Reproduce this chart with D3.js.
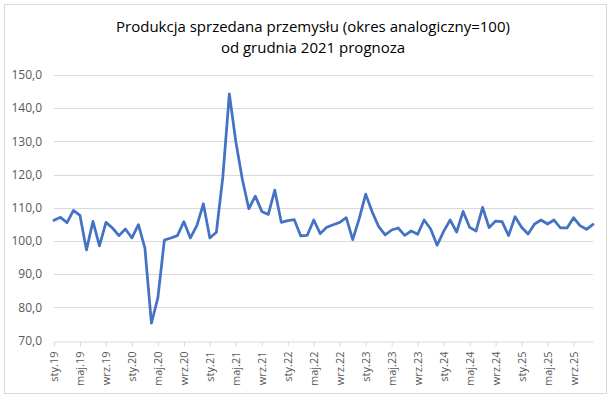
<!DOCTYPE html>
<html>
<head>
<meta charset="utf-8">
<script src="https://cdn.jsdelivr.net/npm/d3@7"></script>
<style>
  body { margin: 0; background: #fff; }
  svg { display: block; font-family: "Open Sans", "Noto Sans", sans-serif; }
</style>
</head>
<body>
<div class="chart-wrapper"></div>
<script>
// categories: months Jan 2019 - Dec 2025
var years = ["19", "20", "21", "22", "23", "24", "25"];
var monthNames = ["sty", "lut", "mar", "kwi", "maj", "cze", "lip", "sie", "wrz", "paź", "lis", "gru"];
var categories = [];
years.forEach(function(y) {
  monthNames.forEach(function(m) { categories.push(m + "." + y); });
});

// values (okres analogiczny=100)
var values = [
  106.2, 107.1, 105.5, 109.2, 107.7, 97.3, 105.9, 98.5, 105.6, 103.9, 101.6, 103.6,
  100.9, 104.9, 97.8, 75.2, 82.9, 100.3, 100.9, 101.6, 105.8, 100.9, 104.6, 111.2,
  100.9, 102.6, 119.3, 144.3, 129.9, 118.6, 109.7, 113.5, 108.9, 108.0, 115.3, 105.6,
  106.1, 106.4, 101.5, 101.7, 106.3, 102.2, 104.1, 104.9, 105.6, 107.0, 100.4, 106.7,
  114.1, 108.7, 104.3, 101.8, 103.3, 103.9, 101.7, 103.0, 102.0, 106.3, 103.6, 98.7,
  102.9, 106.3, 102.7, 108.9, 104.1, 103.0, 110.1, 104.0, 106.0, 105.8, 101.6, 107.3,
  104.1, 102.1, 105.1, 106.3, 105.1, 106.3, 103.9, 103.9, 107.0, 104.6, 103.5, 105.0
];
var yTicks = [70, 80, 90, 100, 110, 120, 130, 140, 150];
var title = ["Produkcja sprzedana przemysłu (okres analogiczny=100)", "od grudnia 2021 prognoza"];

var width = 615, height = 399;
var plotLeft = 54, plotRight = 593, plotTop = 75, plotBottom = 340.5;

var svg = d3.select(".chart-wrapper").append("svg")
  .attr("width", width)
  .attr("height", height);

// chart border
svg.append("rect")
  .attr("x", 4.5).attr("y", 4.5)
  .attr("width", 602).attr("height", 389)
  .attr("fill", "#fff")
  .attr("stroke", "#d9d9d9");

// title
svg.append("g").selectAll("text")
  .data(title)
  .enter().append("text")
  .attr("x", 313)
  .attr("y", function(d, i) { return 32 + i * 21; })
  .attr("text-anchor", "middle")
  .attr("font-size", "15px")
  .attr("fill", "#000")
  .text(function(d) { return d; });

var x = d3.scalePoint()
  .domain(categories)
  .range([plotLeft, plotRight]);

var y = d3.scaleLinear()
  .domain([70, 150])
  .range([plotBottom, plotTop]);

var fmt = d3.formatLocale({ decimal: ",", thousands: " ", grouping: [3], currency: ["", " zł"] }).format(".1f");

// gridlines
svg.append("g").selectAll("line")
  .data(yTicks.slice(1))
  .enter().append("line")
  .attr("x1", plotLeft).attr("x2", plotRight)
  .attr("y1", function(d) { return Math.round(y(d)) + 0.5; })
  .attr("y2", function(d) { return Math.round(y(d)) + 0.5; })
  .attr("stroke", "#d9d9d9");

// y axis labels
svg.append("g").selectAll("text")
  .data(yTicks)
  .enter().append("text")
  .attr("x", 42)
  .attr("y", function(d) { return y(d); })
  .attr("dy", "0.35em")
  .attr("text-anchor", "end")
  .attr("font-size", "12px")
  .attr("fill", "#595959")
  .text(function(d) { return fmt(d); });

// x axis
var shown = categories.filter(function(d, i) { return i % 4 === 0; });
var xAxis = d3.axisBottom(x)
  .tickValues(shown)
  .tickSize(5)
  .tickSizeOuter(0);

var gx = svg.append("g")
  .attr("transform", "translate(0," + (Math.round(plotBottom) + 0.5) + ")")
  .call(xAxis);
gx.select(".domain").attr("stroke", "#d9d9d9");
gx.selectAll(".tick line").attr("stroke", "#d9d9d9");
gx.selectAll(".tick text")
  .attr("transform", "rotate(-90)")
  .attr("x", -10)
  .attr("y", 0)
  .attr("dy", "0.35em")
  .attr("text-anchor", "end")
  .attr("font-size", "11px")
  .attr("font-family", "\"Open Sans\", \"Noto Sans\", sans-serif")
  .attr("fill", "#595959");

// series line
var line = d3.line()
  .x(function(d, i) { return x(categories[i]); })
  .y(function(d) { return y(d); });

svg.append("path")
  .datum(values)
  .attr("d", line)
  .attr("fill", "none")
  .attr("stroke", "#4472c4")
  .attr("stroke-width", 2.75)
  .attr("stroke-linejoin", "round")
  .attr("stroke-linecap", "round");
</script>
</body>
</html>
